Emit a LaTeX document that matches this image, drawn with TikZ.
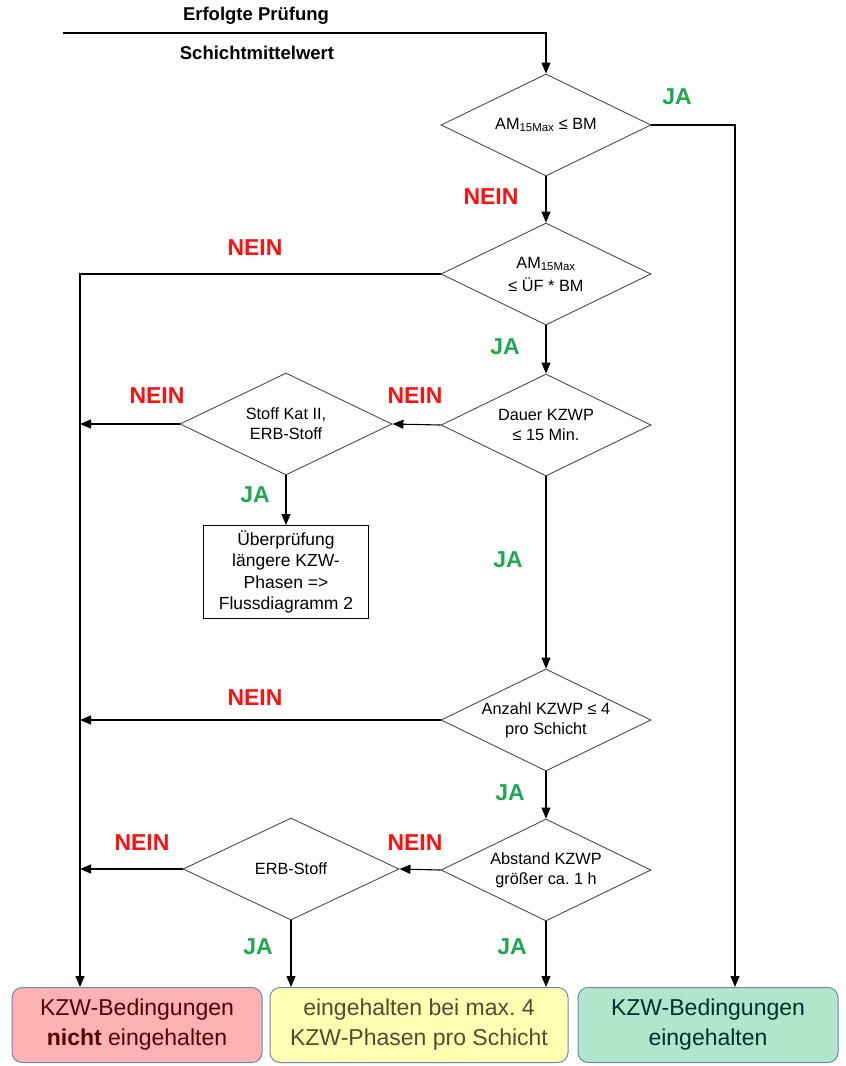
\documentclass[tikz,border=0pt]{standalone}
\usepackage{fontspec}
\setmainfont{Liberation Sans}
\usepackage{tikz}
\usetikzlibrary{shapes.geometric,arrows.meta}
\definecolor{jagruen}{RGB}{30,168,80}
\definecolor{neinrot}{RGB}{255,16,16}
\definecolor{rahmen}{RGB}{110,135,180}
\definecolor{rotfeld}{RGB}{250,178,178}
\definecolor{gelbfeld}{RGB}{255,255,180}
\definecolor{gruenfeld}{RGB}{178,230,204}
\frenchspacing

\begin{document}
\begin{tikzpicture}[x=1pt,y=-1pt,
  frage/.style={diamond,aspect=2.04,draw=black!70,line width=0.9pt,minimum width=210pt,minimum height=102pt,
    inner sep=0pt,align=center,font=\fontsize{16.3}{20}\selectfont},
  kasten/.style={draw,line width=1pt,minimum width=165pt,minimum height=93pt,inner sep=0pt,
    align=center,font=\fontsize{17.5}{21.5}\selectfont},
  ergebnis/.style={draw=rahmen,line width=1pt,rounded corners=10pt,minimum height=75pt,
    inner sep=0pt,align=center,font=\fontsize{23}{30}\selectfont},
  pfeil/.style={-{Triangle[length=11pt,width=9pt]},line width=1.1pt},
  ja/.style={text=jagruen,font=\bfseries\fontsize{23}{24}\selectfont},
  nein/.style={text=neinrot,font=\bfseries\fontsize{23}{24}\selectfont},
  titel/.style={font=\bfseries\fontsize{18.5}{20}\selectfont}]
\useasboundingbox (0,0) rectangle (846,1066);

% Eingang
\node[titel] (pruefung) at (256,16) {Erfolgte Prüfung};
\node[titel] (mittel) at (257,53) {Schichtmittelwert};
\coordinate (start) at (63,33);
\coordinate (knick) at (546,33);

% Abfragen
\node[frage] (f1) at (546,125) {AM\textsubscript{15Max} ≤ BM};
\node[frage] (f2) at (546,274) {AM\textsubscript{15Max}\\[3pt] ≤ ÜF * BM};
\node[frage] (f3) at (546,425) {Dauer KZWP\\ ≤ 15 Min.};
\node[frage,minimum width=212pt] (f4) at (286,424) {Stoff Kat II,\\ ERB-Stoff};
\node[kasten] (fluss) at (286,572) {Überprüfung\\längere KZW-\\Phasen =>\\Flussdiagramm 2};
\node[frage] (f5) at (546,720) {Anzahl KZWP ≤ 4\\ pro Schicht};
\node[frage] (f6) at (546,870) {Abstand KZWP\\ größer ca. 1 h};
\node[frage,minimum width=216pt] (f7) at (291,869) {ERB-Stoff};

% Ergebnisse
\node[ergebnis,fill=rotfeld,text=red!35!black,minimum width=250pt] (nicht) at (137,1025)
  {KZW-Bedingungen\\\textbf{nicht} eingehalten};
\node[ergebnis,fill=gelbfeld,text=olive!45!black,minimum width=298pt] (teil) at (419,1025)
  {eingehalten bei max. 4\\KZW-Phasen pro Schicht};
\node[ergebnis,fill=gruenfeld,text=teal!35!black,minimum width=260pt] (ok) at (708,1025)
  {KZW-Bedingungen\\eingehalten};

\coordinate (links) at (80,274);

% Verbindungen
\draw[pfeil] (start) -- (knick) -- (f1.north);
\draw[pfeil] (f1.east) -| ([xshift=27pt]ok.north);
\draw[pfeil] (f1.south) -- (f2.north);
\draw[pfeil] (f2.west) -- (links) -- (links |- nicht.north);
\draw[pfeil] (f2.south) -- (f3.north);
\draw[pfeil] (f3.west) -- (f4.east);
\draw[pfeil] (f4.west) -- (f4.west -| links);
\draw[pfeil] (f4.south) -- (fluss.north);
\draw[pfeil] (f3.south) -- (f5.north);
\draw[pfeil] (f5.west) -- (f5.west -| links);
\draw[pfeil] (f5.south) -- (f6.north);
\draw[pfeil] (f6.west) -- (f7.east);
\draw[pfeil] (f7.west) -- (f7.west -| links);
\draw[pfeil] (f7.south) -- (f7.south |- teil.north);
\draw[pfeil] (f6.south) -- (f6.south |- teil.north);

% Beschriftungen
\node[ja] (ja1) at (677,97) {JA};
\node[nein] (nein1) at (491,197) {NEIN};
\node[nein] (nein2) at (255,248) {NEIN};
\node[ja] (ja2) at (505,347) {JA};
\node[nein] (nein3) at (415,396) {NEIN};
\node[nein] (nein4) at (157,396) {NEIN};
\node[ja] (ja3) at (255,495) {JA};
\node[ja] (ja4) at (508,560) {JA};
\node[nein] (nein5) at (255,698) {NEIN};
\node[ja] (ja5) at (510,793) {JA};
\node[nein] (nein6) at (415,843) {NEIN};
\node[nein] (nein7) at (142,843) {NEIN};
\node[ja] (ja6) at (258,947) {JA};
\node[ja] (ja7) at (512,947) {JA};
\end{tikzpicture}
\end{document}
